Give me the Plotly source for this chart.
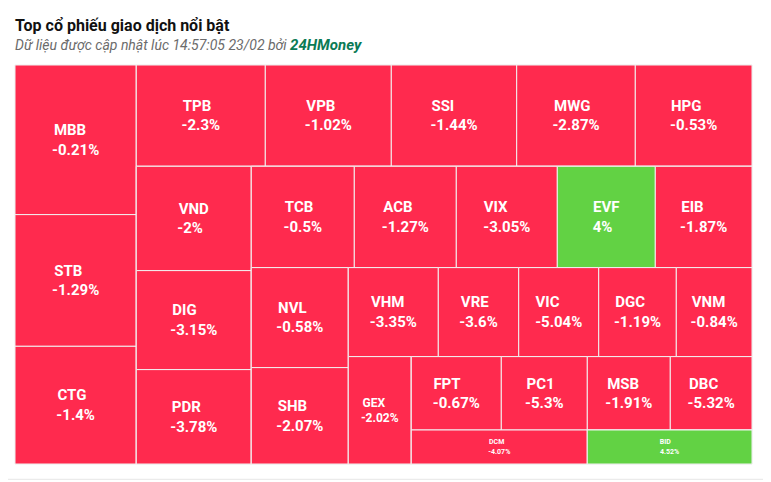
import plotly.graph_objects as go

symbols = ["MBB", "STB", "CTG", "TPB", "VPB", "SSI", "MWG", "HPG", "VND", "DIG",
           "PDR", "TCB", "ACB", "VIX", "EVF", "EIB", "NVL", "SHB", "VHM", "VRE",
           "VIC", "DGC", "VNM", "GEX", "FPT", "PC1", "MSB", "DBC", "DCM", "BID"]
sizes = [18147, 15975, 14277, 13068, 12764, 12703, 12014, 11822, 11995, 11385,
         10856, 10434, 10333, 10231, 9927, 9796, 9700, 9351, 8010, 7156,
         7120, 6906, 6737, 6766, 6606, 6312, 6092, 5997, 5984, 5600]
changes = [-0.21, -1.29, -1.4, -2.3, -1.02, -1.44, -2.87, -0.53, -2, -3.15,
           -3.78, -0.5, -1.27, -3.05, 4, -1.87, -0.58, -2.07, -3.35, -3.6,
           -5.04, -1.19, -0.84, -2.02, -0.67, -5.3, -1.91, -5.32, -4.07, 4.52]

RED = "#FF2A4E"
GREEN = "#62D244"
BASE_FONT = 15
SMALL_FONT = {"GEX": 12, "DCM": 7, "BID": 7}   # labels shrunk to fit small tiles

# approximate Roboto Bold advance widths (em) used to left-align the two lines
CHAR_W = {c: 0.562 for c in "0123456789"}
CHAR_W.update({"-": 0.276, ".": 0.268, "%": 0.733,
               "A": .667, "B": .637, "C": .653, "D": .637, "E": .556, "F": .545,
               "G": .680, "H": .712, "I": .285, "L": .537, "M": .873, "N": .712,
               "P": .643, "R": .624, "S": .605, "T": .609, "V": .650, "W": .886,
               "X": .641})
NBSP_W = 0.248


def text_w(s):
    return sum(CHAR_W.get(c, 0.6) for c in s)


def left_aligned(a, b):
    wa, wb = text_w(a), text_w(b)
    pad = int(round(abs(wa - wb) / NBSP_W))
    if wa < wb:
        a += "\u00a0" * pad
    else:
        b += "\u00a0" * pad
    return f"<b>{a}<br>{b}</b>"


# the page body has an 8px margin, so the figure is drawn 8px right/down
W, H = 763, 474
L, R, T, B = 7, 19, 57, 18.3
PW, PH = W - L - R, H - T - B


def px(x):
    return (x - L) / PW


def py(y):
    return (H - B - y) / PH


def strips_alternating(vals, width, height):
    """Group items into alternating column/row strips (squarified, alternating
    direction) so the tiling can be expressed as a slice-dice hierarchy."""
    total = sum(vals)
    areas = [v / total * width * height for v in vals]

    def ratio(a, b):
        return max(a / b, b / a)

    out, direction, w, h, i, n = [], 0, width, height, 0, len(areas)
    while i < n:
        cur = [i]
        i += 1
        while i < n:
            prev = areas[cur[-1]]
            s_old = sum(areas[j] for j in cur)
            s_new = s_old + areas[i]
            if direction == 0:
                ow, nw = s_old / h, s_new / h
                old_r, new_r = ratio(ow, prev / ow), ratio(nw, prev / nw)
            else:
                oh, nh = s_old / w, s_new / w
                old_r, new_r = ratio(prev / oh, oh), ratio(prev / nh, nh)
            if new_r > old_r:
                break
            cur.append(i)
            i += 1
        out.append(cur)
        s = sum(areas[j] for j in cur)
        if direction == 0:
            w -= s / h
        else:
            h -= s / w
        direction = 1 - direction
    return out


strips = strips_alternating(sizes, PW, PH)

ids, labels, parents, values, texts, colors, fsizes = [], [], [], [], [], [], []


def add_group(gid, parent):
    ids.append(gid); labels.append(""); parents.append(parent)
    values.append(0); texts.append(""); colors.append(RED); fsizes.append(BASE_FONT)


parent_of_next = ""
for k, strip in enumerate(strips):
    last = k == len(strips) - 1
    if len(strip) > 1:
        holder = f"strip{k}"
        add_group(holder, parent_of_next)
    else:
        holder = parent_of_next
    for j in strip:
        ids.append(symbols[j]); labels.append(symbols[j]); parents.append(holder)
        values.append(sizes[j])
        texts.append(left_aligned(symbols[j], f"{changes[j]:g}%"))
        colors.append(GREEN if changes[j] > 0 else RED)
        fsizes.append(SMALL_FONT.get(symbols[j], BASE_FONT))
    if not last:
        rid = f"rest{k}"
        add_group(rid, parent_of_next)
        parent_of_next = rid

fig = go.Figure(go.Treemap(
    ids=ids,
    labels=labels,
    parents=parents,
    values=values,
    branchvalues="remainder",
    sort=False,
    text=texts,
    texttemplate="%{text}",
    textposition="middle center",
    textfont=dict(family="Roboto", size=fsizes, color="white"),
    marker=dict(colors=colors, line=dict(width=1, color="#f2f2f2"),
                pad=dict(t=0, l=0, r=0, b=0)),
    tiling=dict(packing="slice-dice", pad=0),
    pathbar=dict(visible=False),
    hoverinfo="label+value",
))

fig.update_layout(
    width=W, height=H,
    margin=dict(l=L, r=R, t=T, b=B),
    paper_bgcolor="white",
    font=dict(family="Roboto"),
    annotations=[
        dict(text="<b>Top cổ phiếu giao dịch nổi bật</b>", xref="paper", yref="paper",
             x=px(5), y=py(18), xanchor="left", yanchor="middle",
             showarrow=False, font=dict(family="Roboto", size=16, color="#111111")),
        dict(text="<i>Dữ liệu được cập nhật lúc 14:57:05 23/02 bởi </i>"
                  "<i><b><span style='color:#0B7A55;font-size:15px'>24HMoney</span></b></i>",
             xref="paper", yref="paper",
             x=px(5), y=py(37), xanchor="left", yanchor="middle",
             showarrow=False, font=dict(family="Roboto", size=14, color="#6b6b6b")),
    ],
    shapes=[dict(type="rect", xref="paper", yref="paper",
                 x0=px(-10), x1=px(758),
                 y0=py(471), y1=py(-6),
                 line=dict(color="#e6e6e6", width=1), layer="below")],
)

fig.write_html("out.html")
